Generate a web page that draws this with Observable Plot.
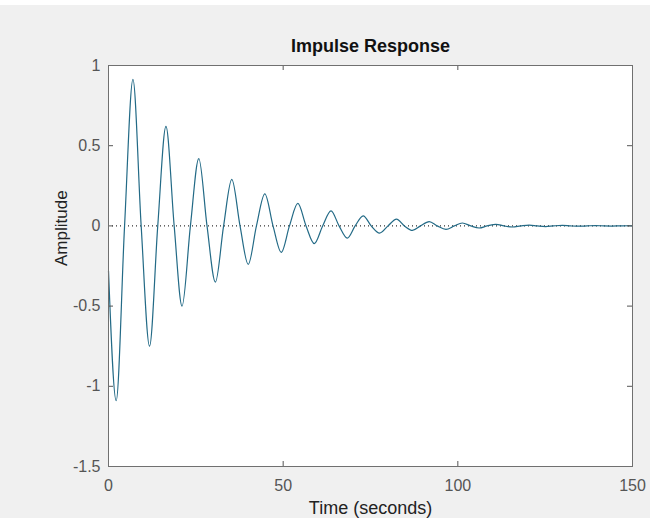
<!DOCTYPE html>
<html><head><meta charset="utf-8">
<script src="https://cdn.jsdelivr.net/npm/d3@7"></script>
<script src="https://cdn.jsdelivr.net/npm/@observablehq/plot@0.6"></script>
<style>
html,body{margin:0;padding:0;background:#fff;}
#wrap{position:absolute;left:0;top:5px;width:650px;height:513px;background:#f0f0f0;overflow:hidden}
svg{font-family:"Liberation Sans",Arial,sans-serif;}
</style></head><body><div id="wrap"></div>
<script>
const time = [0, 2.2, 4.6, 7.0, 9.35, 11.75, 14.1, 16.45, 18.8, 21.05, 23.45, 25.85, 28.2, 30.6, 32.95, 35.3, 37.65, 40.0, 42.35, 44.75, 47.1, 49.45, 51.8, 54.2, 56.55, 58.9, 61.3, 63.7, 66.0, 68.35, 70.6, 72.9, 75.2, 77.6, 80.0, 82.45, 84.7, 87.0, 89.3, 91.8, 94.1, 96.6, 99.0, 101.3, 103.7, 106.1, 108.4, 110.9, 113.2, 115.6, 118.0, 120.4, 122.7, 125.1, 127.4, 129.9, 132.2, 134.6, 137.0, 139.4, 141.7, 144.0, 146.4, 148.8, 150];
const amplitude = [-0.28, -1.09, 0, 0.914, 0, -0.75, 0, 0.62, 0, -0.50, 0, 0.42, 0, -0.35, 0, 0.29, 0, -0.24, 0, 0.20, 0, -0.165, 0, 0.14, 0, -0.11, 0, 0.094, 0, -0.076, 0, 0.063, 0, -0.045, 0, 0.042, 0, -0.028, 0, 0.027, 0, -0.022, 0, 0.018, 0, -0.013, 0, 0.010, 0, -0.007, 0, 0.005, 0, -0.004, 0, 0.003, 0, -0.002, 0, 0.002, 0, -0.001, 0, 0.001, 0];
const xTicks = [0, 50, 100, 150];
const yTicks = [-1.5, -1, -0.5, 0, 0.5, 1];
const title = "Impulse Response";
const xLabel = "Time (seconds)";
const yLabel = "Amplitude";

const data = time.map((t, i) => ({t, a: amplitude[i]}));
const H = 513, mT = 60, mB = 52, mL = 108, mR = 18;
const innerH = H - mT - mB, innerW = 650 - mL - mR;
const tickLen = 5;

const chart = Plot.plot({
  width: 650, height: H,
  marginTop: mT, marginBottom: mB, marginLeft: mL, marginRight: mR,
  style: {background: "transparent", fontFamily: "Liberation Sans, Arial, sans-serif", color: "#555"},
  x: {domain: [0, 150]},
  y: {domain: [-1.5, 1]},
  marks: [
    Plot.frame({fill: "white", stroke: null}),
    Plot.ruleY([0], {stroke: "#000", strokeDasharray: "1,3", strokeWidth: 1}),
    Plot.line(data, {x: "t", y: "a", curve: "monotone-x", stroke: "#236a86", strokeWidth: 1.2}),
    Plot.tickX(xTicks, {x: d => d, insetTop: innerH - tickLen, stroke: "#555"}),
    Plot.tickX(xTicks, {x: d => d, insetBottom: innerH - tickLen, stroke: "#555"}),
    Plot.tickY(yTicks, {y: d => d, insetRight: innerW - tickLen, stroke: "#555"}),
    Plot.tickY(yTicks, {y: d => d, insetLeft: innerW - tickLen, stroke: "#555"}),
    Plot.axisX(xTicks, {tickSize: 0, tickPadding: 13, fontSize: 16, fill: "#555", label: null}),
    Plot.axisY(yTicks, {tickSize: 0, tickPadding: 8, fontSize: 16, fill: "#555", label: null, tickFormat: d => String(d)}),
    Plot.frame({stroke: "#707070", strokeWidth: 1}),
    Plot.text([title], {frameAnchor: "top", text: d => d, dy: -19, lineAnchor: "middle", fontWeight: "bold", fontSize: 18, fill: "#111"}),
    Plot.text([xLabel], {frameAnchor: "bottom", text: d => d, dy: 42, lineAnchor: "middle", fontSize: 18, fill: "#222"}),
    Plot.text([yLabel], {frameAnchor: "left", text: d => d, dx: -47, rotate: -90, lineAnchor: "middle", fontSize: 17, fill: "#222"})
  ]
});
document.getElementById("wrap").appendChild(chart);
</script>
</body></html>
